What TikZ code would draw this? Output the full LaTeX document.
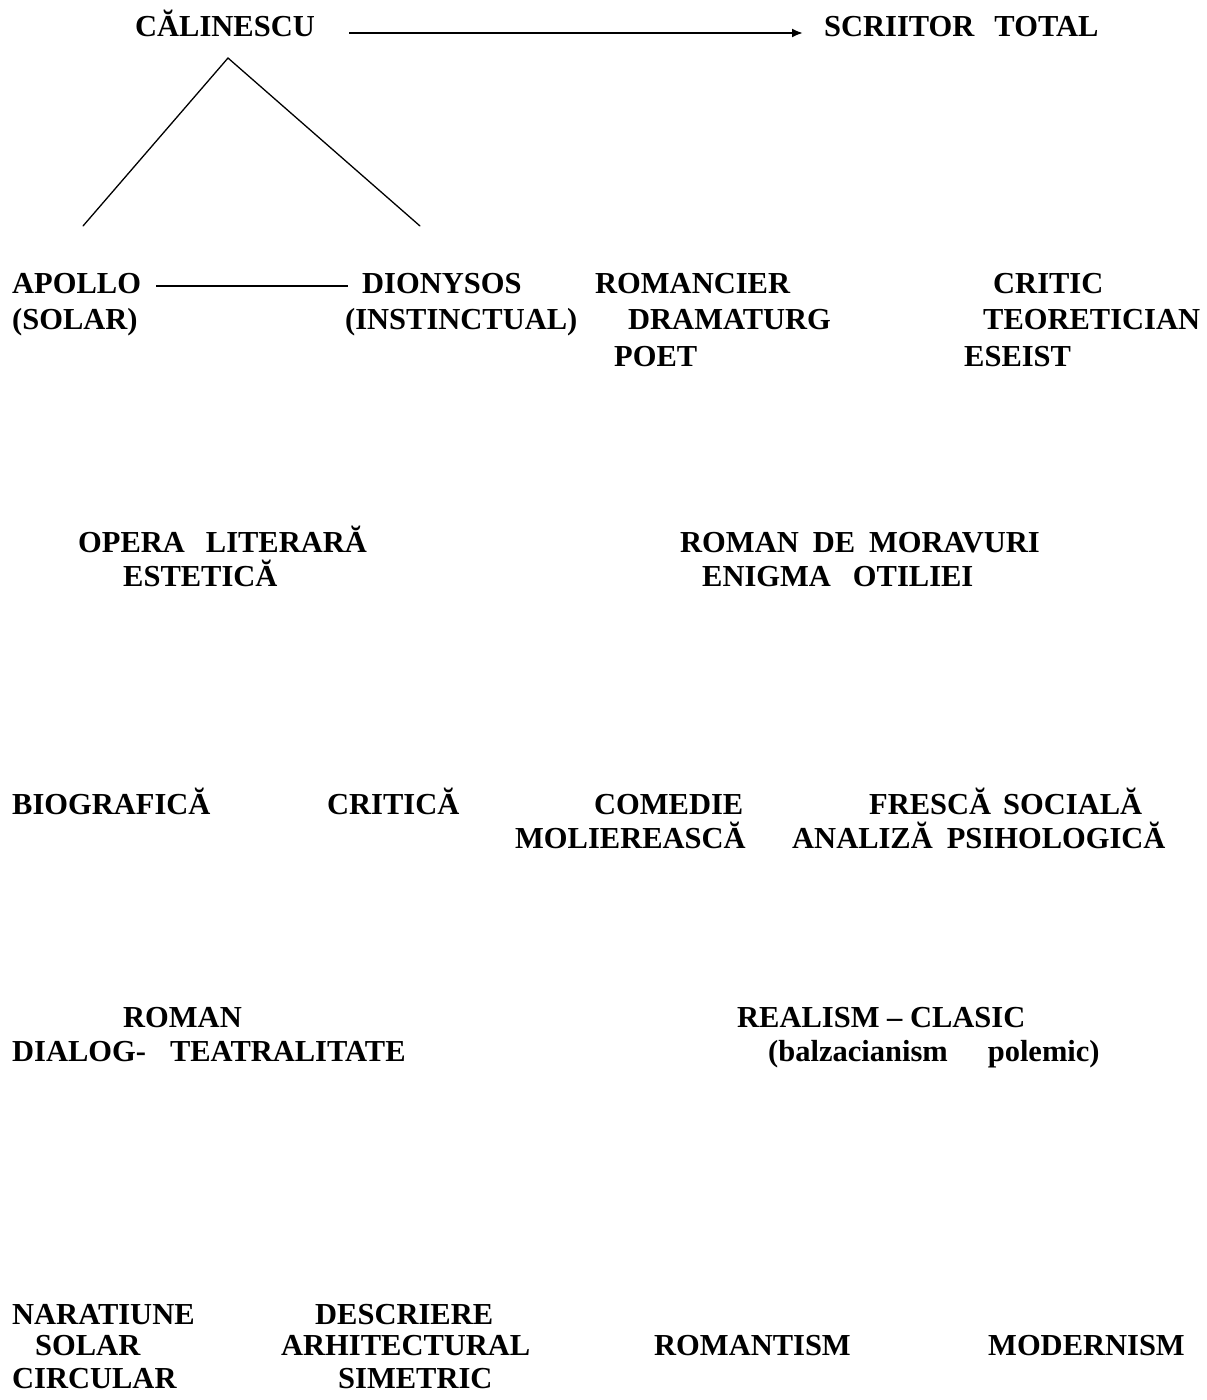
\documentclass[tikz,border=0pt]{standalone}
\usepackage{fontspec}
\setmainfont{Liberation Serif}[BoldFont={Liberation Serif Bold}]
\newfontfamily\tnrbold{Liberation Serif Bold}
\usetikzlibrary{arrows.meta,calc}
\tikzset{
  lbl/.style={anchor=base west, inner sep=0pt, font=\tnrbold\fontsize{30.5}{35}\selectfont},
  thinline/.style={line width=1.3pt, line cap=round},
  thickline/.style={line width=2pt},
}
\begin{document}
\begin{tikzpicture}[x=1pt,y=-1pt]
\useasboundingbox (0,0) rectangle (1207,1400);
% top row
\node[lbl] (cal) at (135,36) {CĂLINESCU};
\node[lbl] (scr) at (824,36) {SCRIITOR\hspace{20pt}TOTAL};
\draw[thickline,-{Latex[length=11pt,width=9pt]}] ([xshift=34pt,yshift=3pt]cal.base east) -- ([xshift=-21pt,yshift=3pt]scr.base west);
% triangle
\coordinate (apex) at (228,58);
\coordinate (lfoot) at (83,226);
\coordinate (rfoot) at (420,226);
\draw[thinline] (lfoot) -- (apex) -- (rfoot);
% row B
\node[lbl] (ap) at (12,293) {APOLLO};
\node[lbl] (dio) at (362,293) {DIONYSOS};
\node[lbl] (sol) at (12,329) {(SOLAR)};
\node[lbl] (ins) at (345,329) {(INSTINCTUAL)};
\draw[thickline] ([xshift=15pt,yshift=7pt]ap.base east) -- ([xshift=-14pt,yshift=7pt]dio.base west);
\node[lbl] (rom) at (595,293) {ROMANCIER};
\node[lbl] (dra) at (628,329) {DRAMATURG};
\node[lbl] (poe) at (614,366) {POET};
\node[lbl] (cri) at (993,293) {CRITIC};
\node[lbl] (teo) at (983,329) {TEORETICIAN};
\node[lbl] (ese) at (964,366) {ESEIST};
% row C
\node[lbl] (opl) at (78,552) {OPERA\hspace{21pt}LITERARĂ};
\node[lbl] (est) at (123,586) {ESTETICĂ};
\node[lbl] (rdm) at (680,552) {ROMAN\hspace{14pt}DE\hspace{14pt}MORAVURI};
\node[lbl] (eni) at (702,586) {ENIGMA\hspace{22pt}OTILIEI};
% row D
\node[lbl] (bio) at (12,814) {BIOGRAFICĂ};
\node[lbl] (crt) at (327,814) {CRITICĂ};
\node[lbl] (com) at (594,814) {COMEDIE};
\node[lbl] (fre) at (869,814) {FRESCĂ\hspace{12pt}SOCIALĂ};
\node[lbl] (mol) at (515,848) {MOLIEREASCĂ};
\node[lbl] (ana) at (792,848) {ANALIZĂ\hspace{14pt}PSIHOLOGICĂ};
% row E
\node[lbl] (rmn) at (123,1027) {ROMAN};
\node[lbl] (dia) at (12,1061) {DIALOG-\hspace{24pt}TEATRALITATE};
\node[lbl] (rea) at (737,1027) {REALISM – CLASIC};
\node[lbl] (bal) at (768,1061) {(balzacianism\hspace{40pt}polemic)};
% row F
\node[lbl] (nar) at (12,1324) {NARATIUNE};
\node[lbl] (des) at (315,1324) {DESCRIERE};
\node[lbl] (sla) at (35,1355) {SOLAR};
\node[lbl] (arh) at (281,1355) {ARHITECTURAL};
\node[lbl] (rmt) at (654,1355) {ROMANTISM};
\node[lbl] (mod) at (988,1355) {MODERNISM};
\node[lbl] (cir) at (12,1388) {CIRCULAR};
\node[lbl] (sim) at (338,1388) {SIMETRIC};
\end{tikzpicture}
\end{document}
